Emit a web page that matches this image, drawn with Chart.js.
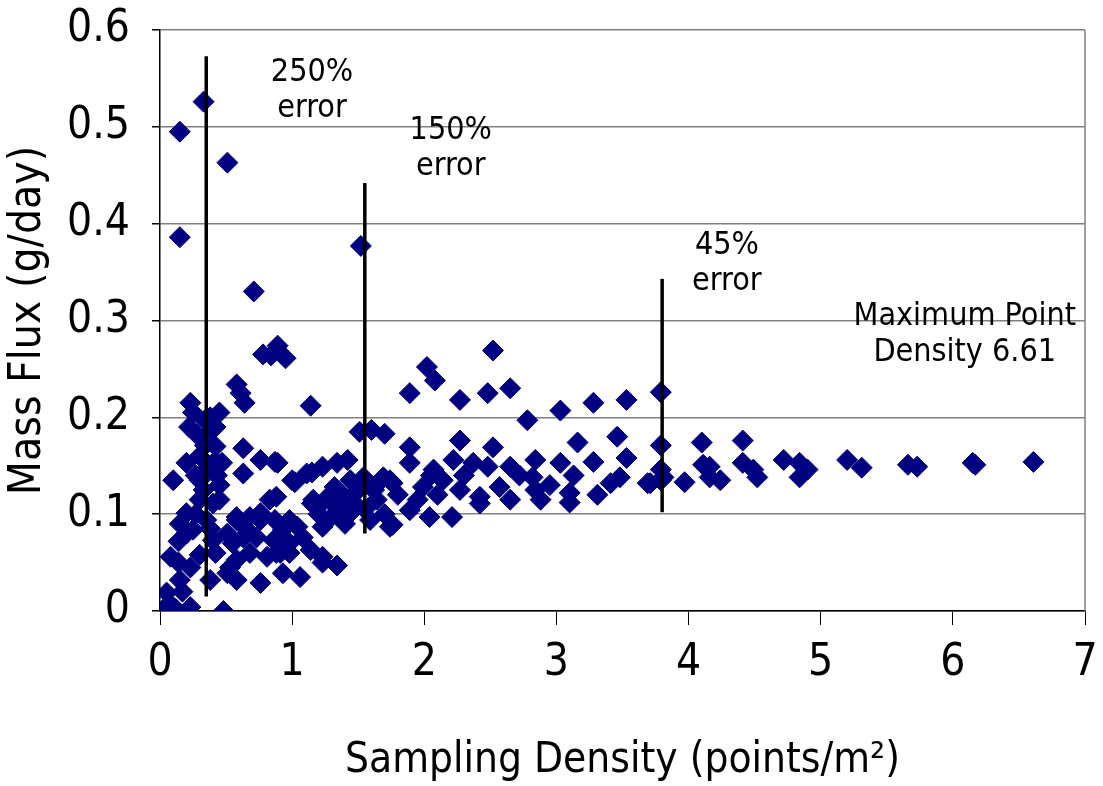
<!DOCTYPE html>
<html>
<head>
<meta charset="utf-8">
<script src="https://cdn.jsdelivr.net/npm/chart.js@4.4.1/dist/chart.umd.min.js"></script>
<style>
  html, body { margin: 0; padding: 0; background: #fff; }
  #wrap { width: 1103px; height: 786px; position: relative; }
</style>
</head>
<body>
<div id="wrap"><canvas id="fluxChart"></canvas></div>
<script>
// ---- data ----
const densityValues = [
  0.15, 0.33, 0.51, 0.15, 1.52, 0.71, 0.78, 0.84, 0.89, 0.95,
  0.58, 0.61, 0.64, 1.14, 0.23, 0.25, 0.45, 0.28, 0.39, 0.34,
  0.63, 0.76, 0.87, 0.20, 0.10, 0.47, 0.63, 0.33, 0.34, 0.35,
  0.40, 0.20, 0.30, 0.25, 0.51, 0.40, 0.58, 0.35, 0.08, 0.23,
  0.30, 0.51, 0.58, 0.76, 0.15, 0.38, 0.05, 0.10, 0.23, 0.02,
  0.48, 0.06, 0.12, 0.17, 0.14, 0.14, 0.20, 0.30, 0.42, 0.27,
  0.45, 0.38, 0.42, 0.22, 0.42, 0.30, 0.43, 0.27, 0.45, 0.38,
  0.15, 0.42, 0.55, 0.65,
  0.58, 0.68, 0.76, 0.63, 0.73, 0.86, 0.93, 0.68, 0.58, 0.81,
  0.91, 0.53, 0.98, 0.83, 0.76, 0.98, 0.88, 0.87, 0.89, 1.02,
  1.15, 1.34, 1.42, 1.32, 1.50, 1.65, 1.74, 1.15, 1.34, 1.44,
  1.59, 1.74, 1.04, 1.23, 1.08, 0.88, 1.14, 1.23, 1.34, 0.93,
  1.06, 1.51, 1.60, 1.70, 1.11, 1.00, 1.23, 1.44, 1.54, 1.69,
  1.16, 1.31, 1.44, 1.64, 1.34, 0.98, 1.23, 1.28, 1.40, 1.20,
  1.55, 1.62, 1.38, 1.48, 1.25, 1.70, 1.58,
  2.52, 2.02, 2.08, 1.89, 2.27, 2.48, 2.65, 2.78, 1.89, 2.27,
  2.52, 1.89, 2.07, 2.22, 2.37, 2.48, 2.65, 1.76, 1.99, 2.14,
  2.27, 2.42, 2.57, 2.65, 1.89, 2.04, 2.21, 2.42, 1.76, 1.80,
  1.95, 2.10, 2.30, 2.05,
  3.03, 3.28, 3.53, 3.79, 3.16, 3.46, 3.79, 2.84, 3.03, 3.28,
  3.53, 3.13, 2.82, 3.48, 3.41, 3.69, 3.79, 2.84, 3.10, 3.31,
  2.88, 3.10, 3.79, 2.72, 2.95,
  4.10, 4.41, 4.11, 4.16, 3.97, 4.16, 4.24, 4.41, 4.49, 4.52,
  4.72, 4.84, 4.90, 4.84, 5.20, 5.31, 5.66, 5.73, 6.15, 6.17,
  6.61, 3.81, 3.71
];
const fluxValues = [
  0.495, 0.526, 0.463, 0.386, 0.377, 0.330, 0.265, 0.264, 0.274, 0.261,
  0.234, 0.225, 0.215, 0.212, 0.215, 0.205, 0.205, 0.182, 0.187, 0.197,
  0.168, 0.156, 0.154, 0.153, 0.135, 0.153, 0.142, 0.125, 0.171, 0.146,
  0.111, 0.101, 0.115, 0.084, 0.080, 0.073, 0.094, 0.094, 0.056, 0.045,
  0.058, 0.039, 0.032, 0.029, 0.032, 0.032, 0.019, 0.004, 0.004, 0.001,
  0.000, 0.000, 0.002, 0.020, 0.050, 0.072, 0.080, 0.160, 0.155, 0.140,
  0.130, 0.200, 0.170, 0.190, 0.190, 0.135, 0.140, 0.100, 0.115, 0.085,
  0.090, 0.060, 0.070, 0.085,
  0.097, 0.097, 0.101, 0.076, 0.076, 0.073, 0.084, 0.060, 0.053, 0.056,
  0.060, 0.045, 0.070, 0.115, 0.094, 0.094, 0.118, 0.094, 0.153, 0.133,
  0.143, 0.153, 0.156, 0.128, 0.125, 0.132, 0.135, 0.111, 0.107, 0.101,
  0.094, 0.087, 0.087, 0.087, 0.076, 0.060, 0.063, 0.050, 0.047, 0.039,
  0.035, 0.185, 0.187, 0.183, 0.142, 0.135, 0.149, 0.135, 0.138, 0.138,
  0.115, 0.122, 0.115, 0.115, 0.101, 0.060, 0.056, 0.095, 0.090, 0.100,
  0.105, 0.125, 0.120, 0.110, 0.115, 0.100, 0.130,
  0.269, 0.252, 0.238, 0.225, 0.218, 0.225, 0.230, 0.197, 0.169, 0.176,
  0.169, 0.153, 0.146, 0.156, 0.153, 0.149, 0.149, 0.132, 0.128, 0.135,
  0.125, 0.118, 0.128, 0.115, 0.104, 0.097, 0.097, 0.111, 0.089, 0.120,
  0.115, 0.120, 0.140, 0.140,
  0.207, 0.215, 0.218, 0.226, 0.174, 0.180, 0.171, 0.156, 0.153, 0.154,
  0.158, 0.140, 0.138, 0.138, 0.132, 0.132, 0.146, 0.125, 0.122, 0.120,
  0.115, 0.112, 0.135, 0.140, 0.130,
  0.174, 0.176, 0.151, 0.149, 0.133, 0.138, 0.135, 0.153, 0.146, 0.138,
  0.156, 0.153, 0.146, 0.138, 0.156, 0.148, 0.151, 0.149, 0.153, 0.151,
  0.154, 0.138, 0.132
];

// error markers: x position, bottom and top of each bar
const errorX = [0.35, 1.55, 3.80];
const errorLow = [0.015, 0.080, 0.102];
const errorHigh = [0.573, 0.442, 0.343];

// annotation text (two lines each), anchored in data units
const noteLines = [
  ["250%", "error"],
  ["150%", "error"],
  ["45%", "error"],
  ["Maximum Point", "Density 6.61"]
];
const noteX = [1.15, 2.20, 4.29, 6.09];
const noteY = [0.556, 0.496, 0.377, 0.304];

const xTicks = [0, 1, 2, 3, 4, 5, 6, 7];
const yTicks = [0, 0.1, 0.2, 0.3, 0.4, 0.5, 0.6];

const FONT = "'Liberation Sans Narrow', 'Arial Narrow', 'DejaVu Sans Condensed', 'Liberation Sans', sans-serif";
const NAVY = '#000080';

// ---- datasets ----
const points = densityValues.map((x, i) => ({ x: x, y: fluxValues[i] }));

const errorSets = errorX.map((x, i) => ({
    label: 'err' + i,
    data: [{ x: x, y: errorLow[i] }, { x: x, y: errorHigh[i] }],
    showLine: true,
    borderColor: '#000',
    borderWidth: 3.5,
    pointRadius: 0,
    order: 0
}));

// no extra room for half-labels, layout padding decides the plot box
function noOverflow(s) {
    s.paddingTop = 0;
    s.paddingBottom = 0;
    s.paddingLeft = 0;
    s.paddingRight = 0;
}

// frame + notes
const framePlugin = {
    id: 'frame',
    beforeDatasetsDraw(chart) {
        const { ctx, chartArea: a } = chart;
        ctx.save();
        ctx.strokeStyle = '#808080';
        ctx.lineWidth = 1.5;
        ctx.beginPath();
        ctx.moveTo(a.right, a.top);
        ctx.lineTo(a.right, a.bottom);
        ctx.stroke();
        ctx.restore();
    },
    afterDraw(chart) {
        const { ctx } = chart;
        const xs = chart.scales.x, ys = chart.scales.y;
        ctx.save();
        ctx.font = "32px " + FONT;
        ctx.fillStyle = '#000';
        ctx.textAlign = 'center';
        ctx.textBaseline = 'middle';
        noteLines.forEach((lines, i) => {
            const px = xs.getPixelForValue(noteX[i]);
            const py = ys.getPixelForValue(noteY[i]);
            lines.forEach((t, j) => ctx.fillText(t, px, py + j * 36));
        });
        ctx.restore();
    }
};

new Chart(document.getElementById('fluxChart'), {
    type: 'scatter',
    data: {
        datasets: [
            ...errorSets,
            {
                label: 'Mass flux',
                data: points,
                pointStyle: 'rectRot',
                pointRadius: 10.5,
                pointBackgroundColor: NAVY,
                pointBorderColor: NAVY,
                pointBorderWidth: 1,
                order: 1
            }
        ]
    },
    options: {
        responsive: true,
        maintainAspectRatio: false,
        animation: false,
        layout: { padding: { top: 30, right: 18, left: 0, bottom: 0 } },
        plugins: {
            legend: { display: false },
            tooltip: { enabled: false }
        },
        scales: {
            x: {
                type: 'linear',
                min: 0,
                max: 7,
                afterBuildTicks: s => { s.ticks = xTicks.map(v => ({ value: v })); },
                afterFit: s => { s.height = 175; noOverflow(s); },
                ticks: {
                    color: '#000',
                    font: { family: FONT, size: 44 },
                    padding: 12,
                    maxRotation: 0
                },
                grid: {
                    drawOnChartArea: false,
                    drawTicks: true,
                    tickLength: 14,
                    color: '#000',
                    lineWidth: 1
                },
                border: { color: '#000', width: 1.5 },
                title: {
                    display: true,
                    text: 'Sampling Density (points/m²)',
                    color: '#000',
                    font: { family: FONT, size: 42 },
                    padding: { top: 0, bottom: 0 }
                }
            },
            y: {
                type: 'linear',
                min: 0,
                max: 0.6,
                afterBuildTicks: s => { s.ticks = yTicks.map(v => ({ value: v })); },
                afterFit: s => { s.width = 160; noOverflow(s); },
                ticks: {
                    color: '#000',
                    font: { family: FONT, size: 44 },
                    padding: 22,
                    callback: v => v === 0 ? '0' : v.toFixed(1)
                },
                grid: {
                    color: '#808080',
                    lineWidth: 1.5,
                    tickLength: 8,
                    tickColor: '#000'
                },
                border: { color: '#000', width: 1.5 },
                title: {
                    display: true,
                    text: 'Mass Flux (g/day)',
                    color: '#000',
                    font: { family: FONT, size: 44 },
                    padding: { top: 2, bottom: 0 }
                }
            }
        }
    },
    plugins: [framePlugin]
});
</script>
</body>
</html>
